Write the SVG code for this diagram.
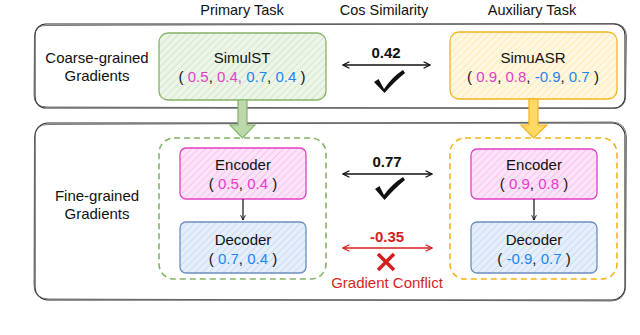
<svg xmlns="http://www.w3.org/2000/svg" width="640" height="335" viewBox="0 0 640 335">
<style>
text{font-family:"Liberation Sans",Arial,sans-serif;font-size:15px;fill:#111;text-anchor:middle}
.hdr{font-size:14.5px}
.b{font-weight:bold}
.pk{fill:#e63cc9}
.bl{fill:#1a87f5}
.red{fill:#d41f1f}
.outer{fill:none;stroke:#2a2a2a;stroke-width:1.1}
.outer2{fill:none;stroke:#555;stroke-width:0.8}
.node{stroke-width:1.3}
.green{fill:url(#hg);stroke:#82b366}
.yellow{fill:url(#hy);stroke:#f2b41c}
.pink{fill:url(#hp);stroke:#e23fc6}
.blue{fill:url(#hb);stroke:#6c8ebf}
.dash{fill:none;stroke-width:1.6;stroke-dasharray:6 4}
.conn{fill:none;stroke:#111;stroke-width:1.6}
</style>
<defs>
<pattern id="hg" width="5" height="5" patternUnits="userSpaceOnUse" patternTransform="rotate(45)"><rect width="5" height="5" fill="#edf5e9"/><line x1="0" y1="0" x2="0" y2="5" stroke="#c4ddb8" stroke-width="1.2"/></pattern>
<pattern id="hy" width="5" height="5" patternUnits="userSpaceOnUse" patternTransform="rotate(45)"><rect width="5" height="5" fill="#fff7df"/><line x1="0" y1="0" x2="0" y2="5" stroke="#fbe3a2" stroke-width="1.2"/></pattern>
<pattern id="hp" width="5" height="5" patternUnits="userSpaceOnUse" patternTransform="rotate(45)"><rect width="5" height="5" fill="#fce3f7"/><line x1="0" y1="0" x2="0" y2="5" stroke="#f4b0e8" stroke-width="1.2"/></pattern>
<pattern id="hb" width="5" height="5" patternUnits="userSpaceOnUse" patternTransform="rotate(45)"><rect width="5" height="5" fill="#e5eefb"/><line x1="0" y1="0" x2="0" y2="5" stroke="#bccfee" stroke-width="1.2"/></pattern>
<marker id="ak" viewBox="0 0 10 10" refX="9" refY="5" markerWidth="8" markerHeight="8" markerUnits="userSpaceOnUse" orient="auto-start-reverse"><path d="M1,1 L9,5 L1,9" fill="none" stroke="#111" stroke-width="1.6"/></marker>
<marker id="ar" viewBox="0 0 10 10" refX="9" refY="5" markerWidth="8" markerHeight="8" markerUnits="userSpaceOnUse" orient="auto-start-reverse"><path d="M1,1 L9,5 L1,9" fill="none" stroke="#d41f1f" stroke-width="1.6"/></marker>
<marker id="as" viewBox="0 0 10 10" refX="9" refY="5" markerWidth="6" markerHeight="6" markerUnits="userSpaceOnUse" orient="auto"><path d="M1,1 L9,5 L1,9" fill="none" stroke="#111" stroke-width="1.5"/></marker>
</defs>

<!-- column headers -->
<text class="hdr" x="242" y="15">Primary Task</text>
<text class="hdr" x="384" y="15">Cos Similarity</text>
<text class="hdr" x="532" y="15">Auxiliary Task</text>

<!-- outer frames -->
<g id="coarse-frame">
<rect class="outer" x="35" y="24" width="590" height="84" rx="11"/>
<path class="outer2" d="M46,25.5 L614,23.5 Q626,24 626.5,36 L625.5,97 Q625,108.5 613,108.5 L47,107 Q34,107 34,95 L34.5,37 Q35,25 46,25.5 Z"/>
<text x="97" y="63">Coarse-grained</text>
<text x="97" y="81">Gradients</text>
</g>
<g id="fine-frame">
<rect class="outer" x="35" y="123" width="590" height="177" rx="13"/>
<path class="outer2" d="M48,124.5 L612,122 Q626,122.5 626.5,137 L625.5,287 Q625,300.5 611,301 L49,299 Q34,299 34,285 L34.5,138 Q35,124 48,124.5 Z"/>
<text x="97" y="201">Fine-grained</text>
<text x="97" y="219">Gradients</text>
</g>

<!-- dashed groups -->
<g id="primary-modules">
<rect class="dash" x="159" y="138" width="167" height="141" rx="15" stroke="#82b366"/>
</g>
<g id="aux-modules">
<rect class="dash" x="450" y="138" width="167" height="141" rx="15" stroke="#f2b41c"/>
</g>

<!-- nodes -->
<g id="simulst">
<rect class="node green" x="159" y="33" width="167" height="67" rx="9"/>
<text x="242" y="63">SimulST</text>
<text x="242" y="82">(<tspan class="pk"> 0.5</tspan>, <tspan class="pk">0.4,</tspan><tspan class="bl"> 0.7</tspan>, <tspan class="bl">0.4</tspan> )</text>
</g>
<g id="simuasr">
<rect class="node yellow" x="450" y="32" width="167" height="67" rx="9"/>
<text x="533" y="63">SimuASR</text>
<text x="533" y="82">(<tspan class="pk"> 0.9</tspan>, <tspan class="pk">0.8</tspan>,<tspan class="bl"> -0.9</tspan>, <tspan class="bl">0.7</tspan> )</text>
</g>
<g id="encoder-primary">
<rect class="node pink" x="180" y="148" width="126" height="51" rx="6"/>
<text x="243" y="170">Encoder</text>
<text x="243" y="189">(<tspan class="pk"> 0.5</tspan>, <tspan class="pk">0.4</tspan> )</text>
</g>
<g id="decoder-primary">
<rect class="node blue" x="180" y="222" width="126" height="51" rx="6"/>
<text x="243" y="245">Decoder</text>
<text x="243" y="264">(<tspan class="bl"> 0.7</tspan>, <tspan class="bl">0.4</tspan> )</text>
</g>
<g id="encoder-aux">
<rect class="node pink" x="471" y="149" width="126" height="50" rx="6"/>
<text x="534" y="170">Encoder</text>
<text x="534" y="189">(<tspan class="pk"> 0.9</tspan>, <tspan class="pk">0.8</tspan> )</text>
</g>
<g id="decoder-aux">
<rect class="node blue" x="471" y="222" width="126" height="51" rx="6"/>
<text x="534" y="245">Decoder</text>
<text x="534" y="264">(<tspan class="bl"> -0.9</tspan>, <tspan class="bl">0.7</tspan> )</text>
</g>

<!-- connectors -->
<g id="connectors">
<path d="M238,100 L247,100 L247,125 L255,125 L242.5,138 L230,125 L238,125 Z" fill="#bcdaa9" stroke="#82b366" stroke-width="1.2"/>
<path d="M529,99 L538,99 L538,125 L547,125 L533.5,138 L521,125 L529,125 Z" fill="#ffd966" stroke="#f2b41c" stroke-width="1.2"/>
<line x1="243" y1="199" x2="243" y2="220" stroke="#111" stroke-width="1.2" marker-end="url(#as)"/>
<line x1="534" y1="199" x2="534" y2="220" stroke="#111" stroke-width="1.2" marker-end="url(#as)"/>
<line class="conn" x1="343" y1="65" x2="430" y2="65" marker-start="url(#ak)" marker-end="url(#ak)"/>
<line class="conn" x1="343" y1="174" x2="432" y2="174" marker-start="url(#ak)" marker-end="url(#ak)"/>
<line x1="343" y1="248" x2="432" y2="248" fill="none" stroke="#d41f1f" stroke-width="1.6" marker-start="url(#ar)" marker-end="url(#ar)"/>
<text class="b" x="386" y="58">0.42</text>
<text class="b" x="387" y="167">0.77</text>
<text class="b red" x="387" y="242">-0.35</text>
<path d="M374,82 L378.5,79 L384,89 Q392,77 403,70 L405,73 Q395,81 384.5,93 Z" fill="#111"/>
<path d="M375,189 L379.5,186 L384,195 Q392,184 403,177 L405,180 Q395,188 384.5,200 Z" fill="#111"/>
<path d="M378,254 L394,270 M394,254 L378,270" stroke="#d41f1f" stroke-width="3.5" fill="none"/>
<text class="red" x="387" y="288">Gradient Conflict</text>
</g>
</svg>
